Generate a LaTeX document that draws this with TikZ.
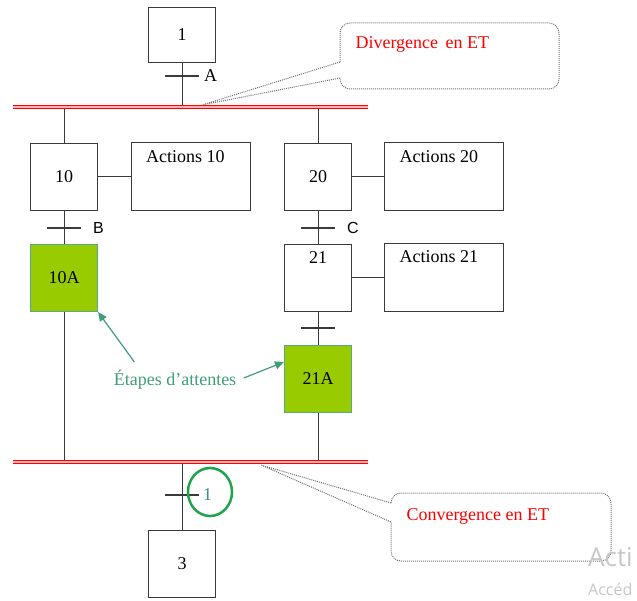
\documentclass[tikz,border=0pt]{standalone}
\usepackage{fontspec}
\setmainfont{Liberation Serif}
\newfontfamily\arialf{Liberation Sans}
\newfontfamily\wmfont{Open Sans}
\usetikzlibrary{arrows.meta,positioning}
\definecolor{vertetape}{HTML}{99CC00}
\definecolor{bordvert}{HTML}{5AA88A}
\definecolor{vertnote}{HTML}{3F9E78}
\definecolor{cercle}{HTML}{1EA54C}
\definecolor{trait}{HTML}{3A3A3A}
\definecolor{chiffre}{HTML}{3E8E8E}
\begin{document}
\begin{tikzpicture}[x=1pt,y=-1pt,
  font=\fontsize{18}{20}\selectfont,
  etape/.style={draw=trait, line width=1.1pt, minimum width=67, minimum height=67, inner sep=0},
  attente/.style={etape, draw=bordvert, fill=vertetape},
  action/.style={draw=trait, line width=1pt, minimum width=119, minimum height=68},
  intitule/.style={anchor=north west, xshift=12, yshift=-4},
  lien/.style={draw=trait, line width=1pt},
  recep/.style={draw=trait, line width=1.2pt},
  barre/.style={draw=red, line width=1.2pt, double=red!30, double distance=2.4pt},
  bulle/.style={draw=black!55, densely dotted, line width=1pt},
  note/.style={text=red, anchor=west},
  fleche/.style={draw=vertnote, line width=1.2pt, -{Triangle[length=9pt,width=8pt]}}]
\useasboundingbox (0,0) rectangle (637,601);

% etapes
\node[etape, minimum height=55] (e1) at (182,35) {1};
\node[etape] (e10) at (64,177) {10};
\node[action, label={[intitule]north west:Actions 10}] (a10) at (190.5,177) {};
\node[etape] (e20) at (318,177) {20};
\node[action, label={[intitule]north west:Actions 20}] (a20) at (444,177) {};
\node[attente] (e10A) at (64,278) {10A};
\node[etape, label={[anchor=north, yshift=-4]north:21}] (e21) at (318,278) {};
\node[action, label={[intitule]north west:Actions 21}] (a21) at (444,278) {};
\node[attente] (e21A) at (318,379) {21A};
\node[etape] (e3) at (182,564) {3};

% barres ET
\coordinate (div) at (182,107);
\coordinate (divG) at (13,107);
\coordinate (divD) at (368,107);
\coordinate (conv) at (182,462);
\coordinate (convG) at (13,462);
\coordinate (convD) at (368,462);

% receptivites
\coordinate (tA) at (182,76);
\coordinate (tB) at (64,228);
\coordinate (tC) at (318,228);
\coordinate (tD) at (318,328);
\coordinate (t1) at (182,495);

\draw[lien] (e1) -- (div);
\draw[lien] (e10 |- div) -- (e10);
\draw[lien] (e20 |- div) -- (e20);
\draw[lien] (e10) -- (a10);
\draw[lien] (e20) -- (a20);
\draw[lien] (e21) -- (a21);
\draw[lien] (e10) -- (e10A);
\draw[lien] (e20) -- (e21);
\draw[lien] (e21) -- (e21A);
\draw[lien] (e10A) -- (e10A |- conv);
\draw[lien] (e21A) -- (e21A |- conv);
\draw[lien] (conv) -- (e3);
\draw[barre] (divG) -- (divD);
\draw[barre] (convG) -- (convD);

\foreach \t in {tA,tB,tC,tD,t1}
  \draw[recep] ([xshift=-17]\t) -- ([xshift=17]\t);
\node[anchor=west, inner sep=1pt] (lA) at ([xshift=21]tA) {A};
\node[anchor=west, inner sep=1pt, font=\arialf\fontsize{16}{18}\selectfont] (lB) at ([xshift=28]tB) {B};
\node[anchor=west, inner sep=1pt, font=\arialf\fontsize{16}{18}\selectfont] (lC) at ([xshift=28]tC) {C};
\node[anchor=west, inner sep=1pt, text=chiffre] (l1) at ([xshift=20]t1) {1};
\draw[cercle, line width=2.5pt] (210,492) ellipse [x radius=22, y radius=24];

% bulles
\draw[bulle, rounded corners=10] (340,62) -- (340,23) -- (559,23) -- (559,89) -- (340,89) -- (340,78);
\draw[bulle] (340,62) -- (202,105) -- (340,78);
\node[note] (nDiv) at (352,44) {Divergence\, en ET};
\draw[bulle, rounded corners=10] (391,503) -- (391,493) -- (611,493) -- (611,561) -- (391,561) -- (391,522);
\draw[bulle] (391,503) -- (261,465) -- (391,522);
\node[note] (nConv) at (403,516) {Convergence en ET};

% etapes d'attente
\node[text=vertnote] (att) at (175,380) {Étapes d'attentes};
\draw[fleche] ([xshift=24,yshift=5]att.north west) -- (e10A.south east);
\draw[fleche] ([xshift=4,yshift=2]att.east) -- ([yshift=-17]e21A.north west);

% filigrane
\node[anchor=west, inner sep=0, text=black!22, font=\wmfont\fontsize{26}{28}\selectfont] (wm1) at (588,557) {Acti};
\node[anchor=west, inner sep=0, text=black!22, font=\wmfont\fontsize{16}{18}\selectfont] (wm2) at (588,589) {Accéd};
\end{tikzpicture}
\end{document}
